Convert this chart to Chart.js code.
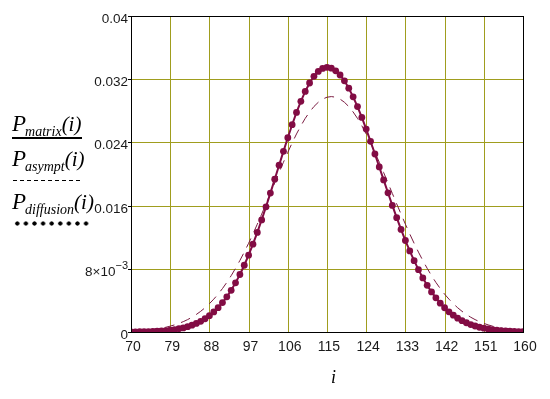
<!DOCTYPE html>
<html>
<head>
<meta charset="utf-8">
<script src="https://cdn.jsdelivr.net/npm/chart.js@4"></script>
<style>
  html,body{margin:0;padding:0;background:#fff;width:550px;height:399px;overflow:hidden;}
  #wrap{position:relative;width:550px;height:399px;}
  canvas{position:absolute;left:0;top:0;}
  .lab{position:absolute;left:12px;font-family:'Liberation Serif','Times New Roman',serif;font-style:italic;font-size:23px;line-height:23px;white-space:nowrap;color:#000;}
  .lab .sub{font-size:14px;vertical-align:-5px;margin-left:-1px;}
  .lab .arg{font-size:21px;}
  .rule{position:absolute;left:12px;width:70px;}
  #ax{position:absolute;left:331px;top:368px;font-family:'Liberation Serif','Times New Roman',serif;font-style:italic;font-size:18px;line-height:18px;color:#000;}
</style>
</head>
<body>
<div id="wrap">
  <canvas id="c" width="550" height="399" style="width:550px;height:399px"></canvas>
  <div class="lab" style="top:112px"><span>P</span><span class="sub">matrix</span><span class="arg">(i)</span></div>
  <div class="rule" style="top:137px;height:1.5px;background:#000"></div>
  <div class="lab" style="top:147px"><span>P</span><span class="sub">asympt</span><span class="arg">(i)</span></div>
  <div class="rule" style="top:180px;height:1px;left:13px;background:repeating-linear-gradient(to right,#000 0 4px,transparent 4px 7px)"></div>
  <div class="lab" style="top:190px"><span>P</span><span class="sub">diffusion</span><span class="arg">(i)</span></div>
  <div class="rule" style="top:221px;height:5px;left:13px;width:78px;background:radial-gradient(circle,#000 1.8px,transparent 2.4px);background-size:8.6px 5px"></div>
  <div id="ax">i</div>
</div>
<script>
// categories (i)
const iValues = [70,71,72,73,74,75,76,77,78,79,80,81,82,83,84,85,86,87,88,89,
  90,91,92,93,94,95,96,97,98,99,100,101,102,103,104,105,106,107,108,109,
  110,111,112,113,114,115,116,117,118,119,120,121,122,123,124,125,126,127,128,129,
  130,131,132,133,134,135,136,137,138,139,140,141,142,143,144,145,146,147,148,149,
  150,151,152,153,154,155,156,157,158,159,160];

// P_matrix(i) (solid)
const pMatrix = [0.00001,0.00002,0.00003,0.00004,0.00005,0.00007,0.00010,0.00014,0.00018,0.00024,
  0.00031,0.00041,0.00052,0.00067,0.00086,0.00108,0.00135,0.00168,0.00207,0.00254,
  0.00308,0.00372,0.00445,0.00528,0.00622,0.00728,0.00845,0.00973,0.01112,0.01261,
  0.01419,0.01585,0.01758,0.01934,0.02111,0.02287,0.02459,0.02624,0.02779,0.02920,
  0.03045,0.03152,0.03237,0.03299,0.03337,0.03350,0.03339,0.03306,0.03253,0.03179,
  0.03086,0.02977,0.02853,0.02716,0.02569,0.02414,0.02253,0.02089,0.01925,0.01762,
  0.01602,0.01447,0.01299,0.01158,0.01026,0.00903,0.00789,0.00685,0.00591,0.00507,
  0.00432,0.00365,0.00307,0.00256,0.00213,0.00175,0.00143,0.00117,0.00094,0.00076,
  0.00060,0.00048,0.00038,0.00029,0.00023,0.00018,0.00014,0.00010,0.00008,0.00006,0.00004];

// P_asympt(i) (dashed)
const pAsympt = [0.00010,0.00013,0.00016,0.00020,0.00025,0.00032,0.00039,0.00049,0.00060,0.00074,
  0.00090,0.00109,0.00131,0.00157,0.00187,0.00222,0.00262,0.00307,0.00358,0.00416,
  0.00479,0.00550,0.00628,0.00713,0.00806,0.00905,0.01011,0.01123,0.01241,0.01365,
  0.01492,0.01622,0.01754,0.01887,0.02019,0.02149,0.02274,0.02394,0.02507,0.02610,
  0.02704,0.02785,0.02854,0.02908,0.02948,0.02972,0.02980,0.02972,0.02948,0.02908,
  0.02854,0.02785,0.02704,0.02610,0.02507,0.02394,0.02274,0.02149,0.02019,0.01887,
  0.01754,0.01622,0.01492,0.01365,0.01241,0.01123,0.01011,0.00905,0.00806,0.00713,
  0.00628,0.00550,0.00479,0.00416,0.00358,0.00307,0.00262,0.00222,0.00187,0.00157,
  0.00131,0.00109,0.00090,0.00074,0.00060,0.00049,0.00039,0.00032,0.00025,0.00020,0.00016];

// P_diffusion(i) (dots) — coincides with P_matrix in the picture
const pDiffusion = [0.00001,0.00002,0.00003,0.00004,0.00005,0.00007,0.00010,0.00014,0.00018,0.00024,
  0.00031,0.00041,0.00052,0.00067,0.00086,0.00108,0.00135,0.00168,0.00207,0.00254,
  0.00308,0.00372,0.00445,0.00528,0.00622,0.00728,0.00845,0.00973,0.01112,0.01261,
  0.01419,0.01585,0.01758,0.01934,0.02111,0.02287,0.02459,0.02624,0.02779,0.02920,
  0.03045,0.03152,0.03237,0.03299,0.03337,0.03350,0.03339,0.03306,0.03253,0.03179,
  0.03086,0.02977,0.02853,0.02716,0.02569,0.02414,0.02253,0.02089,0.01925,0.01762,
  0.01602,0.01447,0.01299,0.01158,0.01026,0.00903,0.00789,0.00685,0.00591,0.00507,
  0.00432,0.00365,0.00307,0.00256,0.00213,0.00175,0.00143,0.00117,0.00094,0.00076,
  0.00060,0.00048,0.00038,0.00029,0.00023,0.00018,0.00014,0.00010,0.00008,0.00006,0.00004];

// ticks
const xTicks = [70,79,88,97,106,115,124,133,142,151,160];
const yTicks = [0,0.008,0.016,0.024,0.032,0.04];
const yTickLabels = ['0','8×10⁻³','0.016','0.024','0.032','0.04'];

const MAROON = '#820c44';
const GRID = '#a09d1e';
const TICK_FONT = "13.5px 'Liberation Sans', Arial, sans-serif";

const pts = arr => iValues.map((x,k)=>({x:x,y:arr[k]}));

// crisp olive grid drawn through the scales, black frame, y tick labels with superscript
const gridPlugin = {
  id:'crispGrid',
  beforeDatasetsDraw(chart){
    const {ctx, chartArea:a, scales} = chart;
    const L = Math.round(a.left), R = Math.round(a.right), T = Math.round(a.top), B = Math.round(a.bottom);
    ctx.save();
    ctx.fillStyle = GRID;
    xTicks.forEach(v=>{
      const px = Math.round(scales.x.getPixelForValue(v));
      ctx.fillRect(px, T, 1, B-T);
    });
    yTicks.forEach(v=>{
      const py = Math.round(scales.y.getPixelForValue(v));
      ctx.fillRect(L, py, R-L, 1);
    });
    ctx.restore();
  },
  afterDatasetsDraw(chart){
    const {ctx, chartArea:a} = chart;
    const ys = chart.scales.y;
    const L = Math.round(a.left), R = Math.round(a.right), T = Math.round(a.top), B = Math.round(a.bottom);
    ctx.save();
    ctx.fillStyle = '#000';
    ctx.fillRect(L, T, R-L+1, 1);
    ctx.fillRect(L, B, R-L+1, 1);
    ctx.fillRect(L, T, 1, B-T+1);
    ctx.fillRect(R, T, 1, B-T+1);
    // y tick marks and labels
    ctx.fillStyle = '#1a1a1a';
    ctx.textBaseline = 'middle';
    ctx.textAlign = 'right';
    yTicks.forEach((v,k)=>{
      const py = Math.round(ys.getPixelForValue(v));
      ctx.fillStyle = '#000';
      ctx.fillRect(L-3, py, 3, 1);
      ctx.fillStyle = '#1a1a1a';
      const lab = yTickLabels[k];
      const xr = L - 3;
      const yc = py + 3;
      const m = lab.match(/^(.*)×10(.*)$/);
      if (m) {
        ctx.font = "11px 'Liberation Sans', Arial, sans-serif";
        const exp = m[2].replace('⁻','−').replace('³','3');
        ctx.fillText(exp, xr, yc - 6);
        const w = ctx.measureText(exp).width;
        ctx.font = TICK_FONT;
        ctx.fillText(m[1] + '×10', xr - w, yc);
      } else {
        ctx.font = TICK_FONT;
        ctx.fillText(lab, xr, yc);
      }
    });
    ctx.restore();
  }
};

new Chart(document.getElementById('c'), {
  type:'line',
  data:{
    datasets:[
      {label:'P_diffusion(i)', data:pts(pDiffusion), showLine:false, pointRadius:3.4,
        pointBackgroundColor:MAROON, pointBorderWidth:0, borderColor:MAROON, order:0},
      {label:'P_matrix(i)', data:pts(pMatrix), borderColor:MAROON, borderWidth:2,
        pointRadius:0, tension:0, order:1},
      {label:'P_asympt(i)', data:pts(pAsympt), borderColor:'#7a1a40', borderWidth:1,
        borderDash:[10,7], pointRadius:0, tension:0, order:2}
    ]
  },
  options:{
    responsive:false, animation:false, devicePixelRatio:1,
    layout:{padding:{left:0,top:16,right:27,bottom:0}},
    plugins:{legend:{display:false}, tooltip:{enabled:false}},
    scales:{
      x:{type:'linear', min:70, max:160,
        afterBuildTicks:s=>{s.ticks = xTicks.map(v=>({value:v}));},
        afterFit:s=>{s.height = 67;},
        grid:{display:false, drawTicks:false},
        border:{display:false},
        ticks:{color:'#1a1a1a', padding:7, labelOffset:2, maxRotation:0, autoSkip:false,
          font:{family:"'Liberation Sans', Arial, sans-serif", size:14},
          callback:v=>String(v)}
      },
      y:{type:'linear', min:0, max:0.04,
        afterBuildTicks:s=>{s.ticks = yTicks.map(v=>({value:v}));},
        afterFit:s=>{s.width = 131;},
        grid:{display:false, drawTicks:false},
        border:{display:false},
        ticks:{display:false}
      }
    }
  },
  plugins:[gridPlugin]
});
</script>
</body>
</html>
